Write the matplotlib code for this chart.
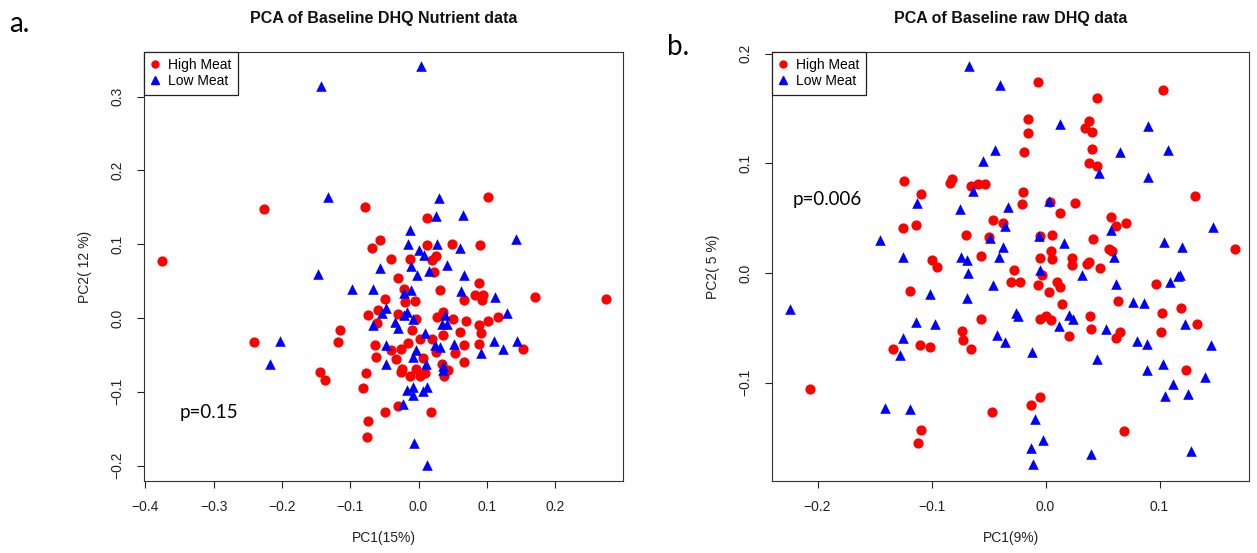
import matplotlib
matplotlib.use("Agg")
import matplotlib.pyplot as plt
from matplotlib.lines import Line2D

plt.rcParams["font.family"] = ["Liberation Sans", "DejaVu Sans"]

# ---- Panel a: PCA of nutrient data ----
a_high_pc1 = [0.101, -0.227, -0.078, 0.013, -0.056, -0.068, 0.013, 0.049, 0.090, -0.040,
              -0.012, 0.026, 0.019, 0.023, -0.376, -0.030, 0.089, -0.021,
              0.031, 0.083, 0.095, 0.093, 0.170, 0.275, -0.049, -0.020, -0.005, 0.066,
              -0.059, -0.074, -0.061, -0.030, -0.004, 0.027, 0.036, 0.051, 0.069, 0.101,
              0.117, 0.089, 0.092, -0.115, -0.118, -0.241, -0.010, 0.002, 0.019, 0.036,
              0.060, 0.089, 0.067, 0.153, -0.064, -0.063, -0.040, -0.033, -0.025, -0.016,
              0.007, 0.026, 0.054, 0.066, 0.034, 0.043, 0.038, -0.024, -0.026, -0.013,
              -0.004, 0.002, 0.010, -0.145, -0.137, -0.077, -0.082, -0.030, -0.049, 0.018,
              -0.074, -0.075]
a_high_pc2 = [0.164, 0.148, 0.151, 0.135, 0.105, 0.095, 0.099, 0.100, 0.099, 0.080,
              0.080, 0.084, 0.078, 0.062, 0.077, 0.054, 0.047, 0.039,
              0.038, 0.031, 0.031, 0.024, 0.029, 0.026, 0.026, 0.022, 0.023, 0.025,
              0.011, 0.004, -0.007, 0.006, -0.001, 0.001, 0.008, -0.001, -0.004, -0.004,
              0.001, -0.010, -0.021, -0.017, -0.033, -0.033, -0.017, -0.029, -0.029, -0.023,
              -0.019, -0.035, -0.036, -0.042, -0.037, -0.053, -0.044, -0.056, -0.042, -0.034,
              -0.054, -0.046, -0.047, -0.060, -0.062, -0.070, -0.078, -0.069, -0.073, -0.079,
              -0.069, -0.078, -0.075, -0.073, -0.084, -0.075, -0.095, -0.119, -0.127, -0.128,
              -0.140, -0.161]
a_low_pc1 = [0.003, -0.143, -0.133, 0.030, 0.026, 0.065, -0.013, 0.142, -0.016, 0.027,
             0.060, 0.001, 0.008, -0.057, -0.011, 0.042, 0.016, -0.002, 0.066, -0.147,
             -0.098, -0.066, -0.022, -0.011, 0.062, 0.112, -0.047, -0.053, -0.017, -0.022,
             -0.008, -0.034, -0.066, -0.030, 0.039, 0.034, 0.041, 0.130, 0.010, -0.047,
             -0.203, 0.024, 0.031, 0.052, 0.110, 0.144, 0.124, 0.091, -0.003, -0.008,
             -0.047, -0.218, 0.011, 0.036, 0.036, -0.017, -0.008, 0.013, 0.006, -0.008,
             -0.023, -0.006, 0.012]
a_low_pc2 = [0.341, 0.314, 0.164, 0.162, 0.138, 0.139, 0.119, 0.107, 0.100, 0.100,
             0.095, 0.092, 0.085, 0.068, 0.070, 0.072, 0.064, 0.058, 0.058, 0.060,
             0.039, 0.039, 0.034, 0.038, 0.036, 0.028, 0.014, 0.007, 0.008, 0.004,
             -0.002, -0.005, -0.010, -0.014, 0.004, -0.008, -0.008, 0.007, -0.020, -0.036,
             -0.031, -0.037, -0.039, -0.035, -0.031, -0.031, -0.042, -0.047, -0.044, -0.053,
             -0.063, -0.063, -0.062, -0.071, -0.065, -0.098, -0.094, -0.094, -0.099, -0.105,
             -0.117, -0.170, -0.199]

# ---- Panel b: PCA of raw DHQ data ----
b_high_pc1 = [-0.007, 0.103, 0.045, -0.015, -0.015, 0.038, 0.035, 0.041, -0.019, 0.041,
              0.038, 0.045, -0.124, -0.082, -0.084, -0.065, -0.059, -0.053, -0.109, -0.020,
              -0.021, 0.004, 0.026, 0.013, 0.131, 0.057, 0.062, 0.071, -0.125, -0.114,
              -0.046, -0.037, -0.070, -0.050, -0.005, 0.006, 0.042, 0.056, 0.058, 0.166,
              -0.100, -0.095, -0.057, -0.005, 0.005, 0.006, 0.023, 0.023, 0.036, 0.038,
              0.048, -0.028, -0.003,
              -0.030, -0.022, -0.007, 0.010, 0.013, 0.003, 0.097, -0.119, 0.064, 0.014,
              0.102, 0.119, 0.133, -0.057, -0.005, 0.000, 0.005, 0.039, 0.040, 0.021,
              0.062, 0.065, 0.101, -0.073, -0.072, -0.065, -0.134, -0.110, -0.101, 0.123,
              -0.207, -0.005, -0.013, -0.047, -0.109, -0.112, 0.069]
b_high_pc2 = [0.174, 0.167, 0.160, 0.140, 0.128, 0.139, 0.132, 0.129, 0.110, 0.113,
              0.100, 0.098, 0.084, 0.086, 0.082, 0.079, 0.081, 0.081, 0.072, 0.074,
              0.063, 0.065, 0.064, 0.055, 0.070, 0.051, 0.043, 0.046, 0.041, 0.044,
              0.048, 0.046, 0.035, 0.033, 0.034, 0.035, 0.031, 0.022, 0.020, 0.022,
              0.012, 0.006, 0.016, 0.014, 0.020, 0.013, 0.014, 0.007, 0.008, 0.010,
              0.005, 0.003, -0.002,
              -0.008, -0.008, -0.011, -0.008, -0.013, -0.017, -0.010, -0.016, -0.025, -0.028,
              -0.036, -0.032, -0.046, -0.042, -0.042, -0.039, -0.043, -0.039, -0.051, -0.057,
              -0.059, -0.054, -0.054, -0.053, -0.061, -0.069, -0.069, -0.066, -0.067, -0.088,
              -0.106, -0.113, -0.120, -0.127, -0.143, -0.155, -0.144]
b_low_pc1 = [-0.067, -0.040, 0.013, 0.090, -0.044, 0.065, 0.107, -0.055, 0.047, 0.090,
             -0.064, -0.113, 0.003, -0.075, -0.033, -0.036, 0.057, 0.147, -0.145, -0.049,
             -0.006, 0.016, 0.104, 0.120, -0.037, -0.125, -0.074, -0.069, -0.041, 0.060,
             -0.068, -0.005, 0.032, 0.118, 0.116,
             -0.046, 0.062, 0.109, -0.101, -0.069, -0.224, -0.114, -0.097, -0.026, -0.024,
             0.021, 0.024, 0.012, 0.077, 0.086, 0.122, 0.053, -0.043, -0.036, -0.125,
             -0.128, -0.012, 0.080, 0.089, 0.145, 0.045, 0.089, 0.103, 0.140, 0.112,
             0.105, 0.125, -0.141, -0.119, -0.009, -0.002, -0.013, 0.040, 0.128, -0.011]
b_low_pc2 = [0.189, 0.171, 0.136, 0.134, 0.112, 0.110, 0.112, 0.102, 0.091, 0.088,
             0.075, 0.064, 0.066, 0.058, 0.060, 0.043, 0.039, 0.042, 0.030, 0.032,
             0.034, 0.027, 0.028, 0.024, 0.024, 0.015, 0.015, 0.012, 0.015, 0.015,
             0.000, 0.003, -0.002, -0.002, -0.003,
             -0.011, -0.010, -0.008, -0.019, -0.023, -0.033, -0.045, -0.046, -0.036, -0.039,
             -0.038, -0.042, -0.048, -0.026, -0.027, -0.046, -0.051, -0.056, -0.063, -0.059,
             -0.075, -0.072, -0.062, -0.065, -0.066, -0.078, -0.088, -0.083, -0.095, -0.101,
             -0.112, -0.110, -0.123, -0.124, -0.133, -0.152, -0.159, -0.165, -0.162, -0.174]

groups = ["High Meat", "Low Meat"]
red = "#ff0000"
blue = "#0000ff"
ink = "#222222"

fig = plt.figure(figsize=(12.57, 5.53), dpi=100)
W, H = 1257, 553


def px_axes(left, right, top, bottom):
    return [left / W, 1 - bottom / H, (right - left) / W, (bottom - top) / H]


ax_a = fig.add_axes(px_axes(144, 623, 52, 481))
ax_b = fig.add_axes(px_axes(772, 1249, 52, 481))

panels = [
    (ax_a, a_high_pc1, a_high_pc2, a_low_pc1, a_low_pc2,
     (-0.402, 0.2994), (-0.221, 0.3605),
     [-0.4, -0.3, -0.2, -0.1, 0.0, 0.1, 0.2], [-0.2, -0.1, 0.0, 0.1, 0.2, 0.3]),
    (ax_b, b_high_pc1, b_high_pc2, b_low_pc1, b_low_pc2,
     (-0.240, 0.1785), (-0.1895, 0.2015),
     [-0.2, -0.1, 0.0, 0.1], [-0.1, 0.0, 0.1, 0.2]),
]

for ax, hx, hy, lx, ly, xlim, ylim, xt, yt in panels:
    ax.scatter(hx, hy, s=54, marker="o", color=red, linewidths=0, zorder=3)
    ax.scatter(lx, ly, s=58, marker="^", color=blue, linewidths=0, zorder=3)
    ax.set_xlim(*xlim)
    ax.set_ylim(*ylim)
    ax.set_xticks(xt)
    ax.set_yticks(yt)
    ax.set_xticklabels([f"{v:.1f}".replace("-", "\u2212") for v in xt])
    ax.set_yticklabels([f"{v:.1f}".replace("-", "\u2212") for v in yt],
                       rotation=90, va="center")
    ax.tick_params(direction="out", length=5, width=0.8, color=ink,
                   labelsize=10, labelcolor=ink, pad=9)
    for sp in ax.spines.values():
        sp.set_linewidth(0.8)
        sp.set_color("#333333")
    handles = [
        Line2D([], [], marker="o", linestyle="none", color=red, markersize=5),
        Line2D([], [], marker="^", linestyle="none", color=blue, markersize=5.5),
    ]
    leg = ax.legend(handles, groups, loc="upper left", borderaxespad=0,
                    fancybox=False, edgecolor="#222222", framealpha=1,
                    fontsize=10, handlelength=0.7, handletextpad=0.6,
                    labelspacing=0.15, borderpad=0.45)
    leg.get_frame().set_linewidth(0.9)
    leg.set_zorder(5)

# titles and axis labels
fig.text(383.5 / W, 1 - 18 / H, "PCA of Baseline DHQ Nutrient data",
         ha="center", va="center", fontsize=11.5, fontweight="bold", color="#111111")
fig.text(1010.5 / W, 1 - 18 / H, "PCA of Baseline raw DHQ data",
         ha="center", va="center", fontsize=11.5, fontweight="bold", color="#111111")
fig.text(383.5 / W, 1 - 538 / H, "PC1(15%)", ha="center", va="center",
         fontsize=10, color=ink)
fig.text(1010.5 / W, 1 - 538 / H, "PC1(9%)", ha="center", va="center",
         fontsize=10, color=ink)
fig.text(85 / W, 1 - 266.5 / H, "PC2( 12 %)", ha="center", va="center",
         rotation=90, fontsize=10, color=ink)
fig.text(713 / W, 1 - 266.5 / H, "PC2( 5 %)", ha="center", va="center",
         rotation=90, fontsize=10, color=ink)

# panel letters and p-values
fig.text(9 / W, 1 - 32 / H, "a.", ha="left", va="baseline",
         fontsize=20, family=["Lato", "DejaVu Sans"])
fig.text(667 / W, 1 - 55 / H, "b.", ha="left", va="baseline",
         fontsize=20, family=["Lato", "DejaVu Sans"])
fig.text(180 / W, 1 - 417.7 / H, "p=0.15", ha="left", va="baseline",
         fontsize=13.5, family=["Lato", "DejaVu Sans"])
fig.text(793 / W, 1 - 205 / H, "p=0.006", ha="left", va="baseline",
         fontsize=13.5, family=["Lato", "DejaVu Sans"])

fig.savefig("out.png", dpi=100)
